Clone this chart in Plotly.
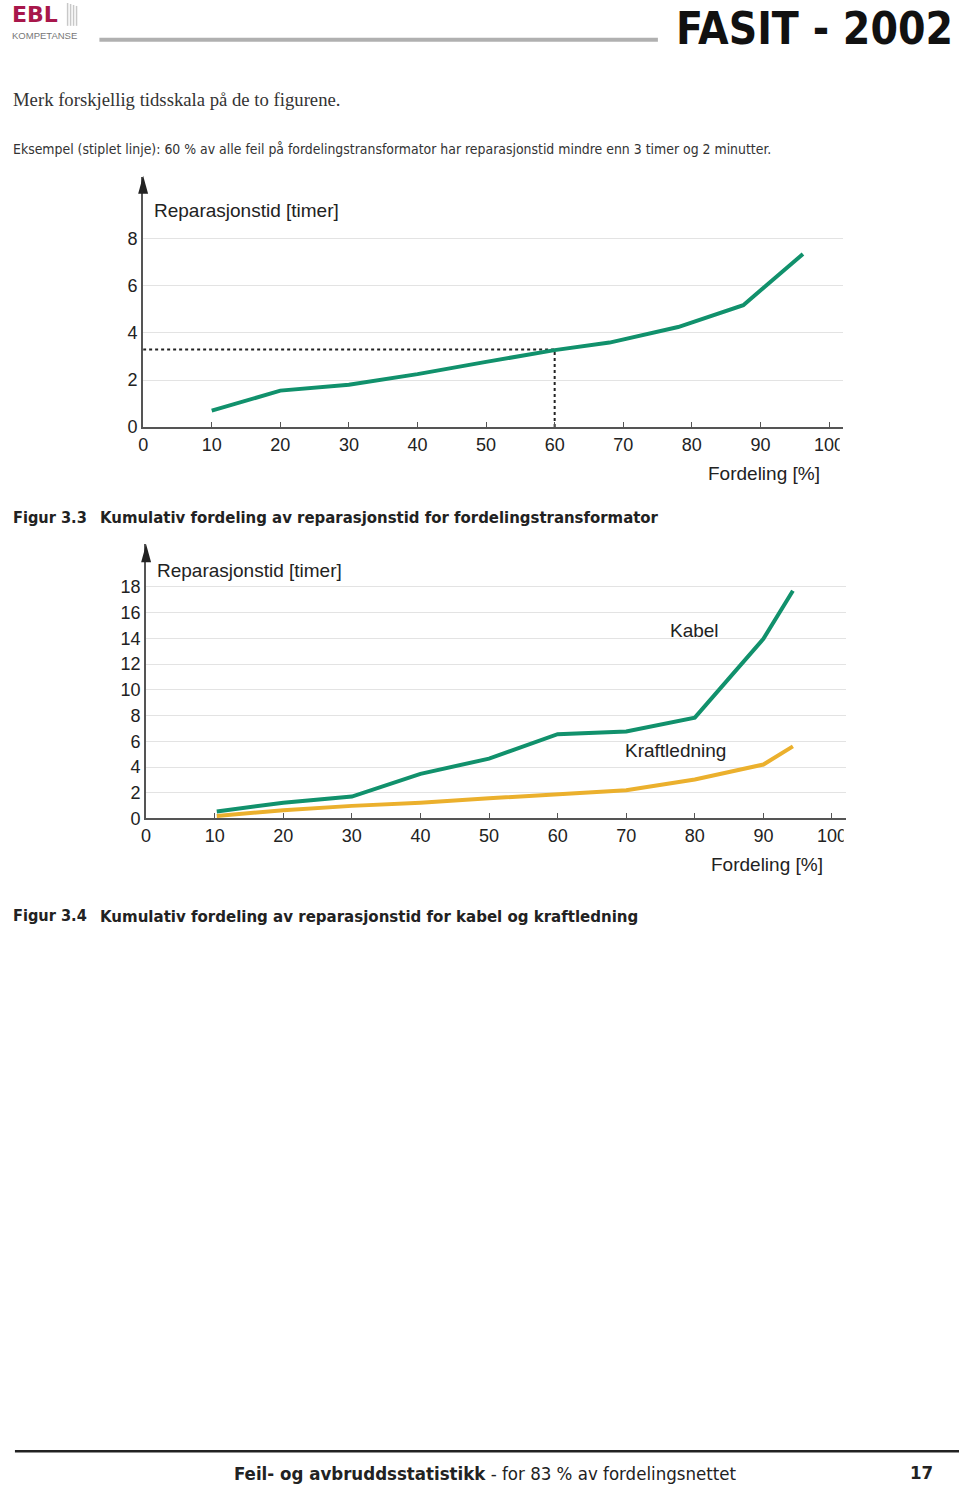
import plotly.graph_objects as go

W, H = 960, 1496

# ---- data ----
fordeling_trafo = [10, 20, 30, 40, 50, 60, 68, 78, 87.5, 96.2]
tid_trafo = [0.70, 1.55, 1.80, 2.25, 2.77, 3.27, 3.59, 4.25, 5.18, 7.35]
ref_x = [0, 60, 60]
ref_y = [3.3, 3.3, 0]

fordeling_kabel = [10.3, 20, 30, 40, 50, 60, 70, 80, 90, 94.3]
tid_kabel = [0.54, 1.23, 1.70, 3.47, 4.65, 6.55, 6.76, 7.84, 13.96, 17.69]
fordeling_kraft = [10.3, 20, 30, 40, 50, 60, 70, 80, 90, 94.3]
tid_kraft = [0.20, 0.64, 0.98, 1.23, 1.57, 1.88, 2.19, 3.03, 4.19, 5.60]

x_ticks = [0, 10, 20, 30, 40, 50, 60, 70, 80, 90, 100]
y_ticks_1 = [0, 2, 4, 6, 8]
y_ticks_2 = [0, 2, 4, 6, 8, 10, 12, 14, 16, 18]

GREEN = "#11916c"
ORANGE = "#ebb02d"
NARROW = "DejaVu Sans Condensed, Liberation Sans Narrow, Arial Narrow, sans-serif"
SANS = "Liberation Sans, Arial, sans-serif"


def px(x):
    return x / W


def py(y):
    return 1 - y / H


fig = go.Figure()

fig.add_trace(go.Scatter(x=ref_x, y=ref_y, mode="lines", xaxis="x", yaxis="y",
                         line=dict(color="#222", width=2, dash="dot"), showlegend=False))
fig.add_trace(go.Scatter(x=fordeling_trafo, y=tid_trafo, mode="lines", xaxis="x", yaxis="y",
                         line=dict(color=GREEN, width=4), showlegend=False))
fig.add_trace(go.Scatter(x=fordeling_kraft, y=tid_kraft, mode="lines", xaxis="x2", yaxis="y2",
                         line=dict(color=ORANGE, width=4), showlegend=False))
fig.add_trace(go.Scatter(x=fordeling_kabel, y=tid_kabel, mode="lines", xaxis="x2", yaxis="y2",
                         line=dict(color=GREEN, width=4), showlegend=False))

axis_common = dict(showline=True, linecolor="#555", linewidth=2, zeroline=False,
                   tickfont=dict(family=SANS, size=18, color="#222"), fixedrange=True)

fig.update_layout(
    width=W, height=H, margin=dict(l=0, r=0, t=0, b=0),
    paper_bgcolor="white", plot_bgcolor="white",
    xaxis=dict(domain=[px(139), px(843)], range=[0, 102], anchor="y",
               tickvals=x_ticks, ticks="inside", ticklen=5, tickcolor="#555",
               showgrid=False, **axis_common),
    yaxis=dict(domain=[py(430), py(178)], range=[0, 10.63], anchor="x",
               tickvals=y_ticks_1, ticks="", showgrid=True, gridcolor="#e3e3e3",
               gridwidth=1, **axis_common),
    xaxis2=dict(domain=[px(142), px(846)], range=[0, 102], anchor="y2",
                tickvals=x_ticks, ticks="inside", ticklen=5, tickcolor="#555",
                showgrid=False, **axis_common),
    yaxis2=dict(domain=[py(824), py(548)], range=[0, 21.3], anchor="x2",
                tickvals=y_ticks_2, ticks="", showgrid=True, gridcolor="#e3e3e3",
                gridwidth=1, **axis_common),
)

shapes = []
# header bar
shapes.append(dict(type="rect", xref="paper", yref="paper", x0=px(95), x1=px(657),
                   y0=py(42), y1=py(38), fillcolor="#b0b0b0", line=dict(width=0)))
# logo stripes
for i, lx in enumerate([63, 66, 69, 72]):
    shapes.append(dict(type="line", xref="paper", yref="paper", x0=px(lx), x1=px(lx),
                       y0=py(26), y1=py(3 + i), line=dict(color="#c8c8c8", width=1.5)))
# footer line
shapes.append(dict(type="line", xref="paper", yref="paper", x0=px(10), x1=1,
                   y0=py(1461), y1=py(1461), line=dict(color="#222", width=2.5)))
# arrow heads of y axes
shapes.append(dict(type="path", xref="paper", yref="paper",
                   path=f"M {px(134)},{py(195)} L {px(144)},{py(195)} L {px(139)},{py(177)} Z",
                   fillcolor="#222", line=dict(width=0), layer="above"))
shapes.append(dict(type="path", xref="paper", yref="paper",
                   path=f"M {px(137)},{py(566)} L {px(147)},{py(566)} L {px(142)},{py(548)} Z",
                   fillcolor="#222", line=dict(width=0), layer="above"))
# clip of the "100" labels like in the original
shapes.append(dict(type="rect", xref="paper", yref="paper", x0=px(840), x1=px(880),
                   y0=py(460), y1=py(434), fillcolor="white", line=dict(width=0), layer="above"))
shapes.append(dict(type="rect", xref="paper", yref="paper", x0=px(844), x1=px(880),
                   y0=py(854), y1=py(828), fillcolor="white", line=dict(width=0), layer="above"))
fig.update_layout(shapes=shapes)


def text(x, y, s, size, family=SANS, color="#222", xanchor="left", yanchor="middle"):
    fig.add_annotation(x=px(x), y=py(y), xref="paper", yref="paper", text=s,
                       showarrow=False, xanchor=xanchor, yanchor=yanchor,
                       font=dict(family=family, size=size, color=color))


# header
text(5, 15, "<b>EBL</b>", 22, family="DejaVu Sans, sans-serif", color="#a8174b")
text(5, 36, "KOMPETANSE", 9.5, family=SANS, color="#777")
text(956, 29, "<b>FASIT - 2002</b>", 44, family="DejaVu Sans Condensed, DejaVu Sans, sans-serif",
     color="#111", xanchor="right")

text(6, 100, "Merk forskjellig tidsskala på de to figurene.", 18.7,
     family="Liberation Serif, DejaVu Serif, serif", color="#333")
text(6, 150, "Eksempel (stiplet linje): 60 % av alle feil på fordelingstransformator har "
     "reparasjonstid mindre enn 3 timer og 2 minutter.", 13.9, family=NARROW, color="#333")

# chart 1 labels
text(148, 212, "Reparasjonstid [timer]", 19)
text(822, 477, "Fordeling [%]", 19, xanchor="right")
text(6, 521, "<b>Figur 3.3</b>", 16.2, family=NARROW)
text(94, 521, "<b>Kumulativ fordeling av reparasjonstid for fordelingstransformator</b>", 16.6,
     family=NARROW)

# chart 2 labels
text(151, 574, "Reparasjonstid [timer]", 19)
text(667, 635, "Kabel", 19)
text(622, 756, "Kraftledning", 19)
text(825, 870, "Fordeling [%]", 19, xanchor="right")
text(6, 922, "<b>Figur 3.4</b>", 16.2, family=NARROW)
text(94, 922, "<b>Kumulativ fordeling av reparasjonstid for kabel og kraftledning</b>", 16.7,
     family=NARROW)

# footer
text(484, 1483, "<b>Feil- og avbruddsstatistikk</b> - for 83 % av fordelingsnettet", 18.5,
     family=NARROW, xanchor="center")
text(922, 1482, "<b>17</b>", 18.5, family=NARROW, xanchor="center")

fig.write_html(
    "out.html",
    config={"displayModeBar": False},
    post_script=(
        "var de=document.documentElement, b=document.body;"
        "de.style.margin='0';de.style.padding='0';b.style.margin='0';b.style.padding='0';"
        "de.style.overflow='hidden';b.style.overflow='hidden';"
    ),
)
